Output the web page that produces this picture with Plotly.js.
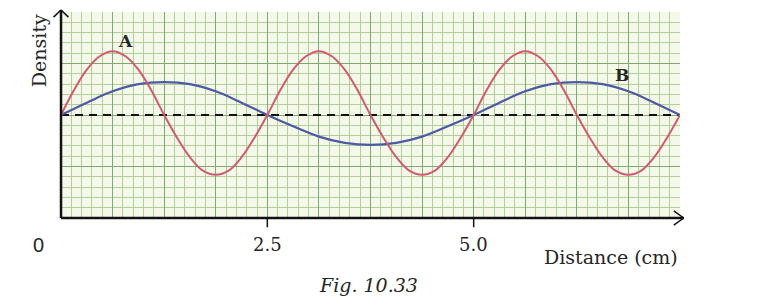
<!DOCTYPE html>
<html>
<head>
<meta charset="utf-8">
<script src="https://cdn.plot.ly/plotly-3.0.1.min.js"></script>
<style>html,body{margin:0;padding:0;background:#fff;}#chart{width:764px;height:308px;}</style>
</head>
<body>
<div id="chart"></div>
<script>
// Wave A (red): distance (cm) and density deviation, read at sixteenth-period points
const xA = [0, 0.15625, 0.3125, 0.46875, 0.625, 0.78125, 0.9375, 1.09375, 1.25, 1.40625, 1.5625, 1.71875, 1.875, 2.03125, 2.1875, 2.34375,
            2.5, 2.65625, 2.8125, 2.96875, 3.125, 3.28125, 3.4375, 3.59375, 3.75, 3.90625, 4.0625, 4.21875, 4.375, 4.53125, 4.6875, 4.84375,
            5.0, 5.15625, 5.3125, 5.46875, 5.625, 5.78125, 5.9375, 6.09375, 6.25, 6.40625, 6.5625, 6.71875, 6.875, 7.03125, 7.1875, 7.34375, 7.5];
const yA = [0, 2.4, 4.4, 5.7, 6.2, 5.7, 4.4, 2.4, 0, -2.2, -4.1, -5.4, -5.8, -5.4, -4.1, -2.2,
            0, 2.4, 4.4, 5.7, 6.2, 5.7, 4.4, 2.4, 0, -2.2, -4.1, -5.4, -5.8, -5.4, -4.1, -2.2,
            0, 2.4, 4.4, 5.7, 6.2, 5.7, 4.4, 2.4, 0, -2.2, -4.1, -5.4, -5.8, -5.4, -4.1, -2.2, 0];
// Wave B (blue)
const xB = [0, 0.3125, 0.625, 0.9375, 1.25, 1.5625, 1.875, 2.1875, 2.5, 2.8125, 3.125, 3.4375, 3.75, 4.0625, 4.375, 4.6875,
            5.0, 5.3125, 5.625, 5.9375, 6.25, 6.5625, 6.875, 7.1875, 7.5];
const yB = [0, 1.2, 2.3, 3.0, 3.2, 3.0, 2.3, 1.2, 0, -1.1, -2.1, -2.7, -2.9, -2.7, -2.1, -1.1,
            0, 1.2, 2.3, 3.0, 3.2, 3.0, 2.3, 1.2, 0];
// Equilibrium (dashed) line
const xMid = [0, 7.5];
const yMid = [0, 0];
// Axis labels
const tickVals = [2.5, 5.0];
const tickText = ['2.5', '5.0'];

const serif = 'DejaVu Serif, serif';
const ink = '#262626';
const traces = [
  {x: xMid, y: yMid, mode: 'lines', line: {color: '#111', width: 2, dash: '8px,6px'}, hoverinfo: 'skip'},
  {x: xB, y: yB, mode: 'lines', line: {color: '#4b5aa2', width: 2.2, shape: 'spline', smoothing: 1}},
  {x: xA, y: yA, mode: 'lines', line: {color: '#d05a6e', width: 2, shape: 'spline', smoothing: 1}}
];

const annotations = [
  {text: 'Density', xref: 'paper', yref: 'paper', x: 0, xshift: -22, y: 0.81, textangle: -90, showarrow: false, font: {family: serif, size: 19, color: ink}, xanchor: 'center', yanchor: 'middle'},
  {text: '0', xref: 'paper', yref: 'paper', x: 0, xshift: -23, y: -0.131, showarrow: false, font: {family: 'Liberation Sans, Arial, sans-serif', size: 20, color: ink}, xanchor: 'center', yanchor: 'middle'},
  {text: 'Distance (cm)', xref: 'paper', yref: 'paper', x: 1, y: -0.19, showarrow: false, font: {family: serif, size: 19, color: ink}, xanchor: 'right', yanchor: 'middle'},
  {text: '<i>Fig. 10.33</i>', xref: 'paper', yref: 'paper', x: 0.496, y: -0.325, showarrow: false, font: {family: serif, size: 19, color: ink}, xanchor: 'center', yanchor: 'middle'},
  {text: '<b>A</b>', xref: 'x', yref: 'y', x: 0.78, y: 7.2, showarrow: false, font: {family: serif, size: 17, color: ink}},
  {text: '<b>B</b>', xref: 'x', yref: 'y', x: 6.8, y: 3.9, showarrow: false, font: {family: serif, size: 17, color: ink}}
];
tickVals.forEach((v, i) => annotations.push({text: tickText[i], xref: 'x', yref: 'paper', x: v, y: -0.131, showarrow: false, font: {family: serif, size: 18, color: ink}, xanchor: 'center', yanchor: 'middle'}));

const shapes = [
  // y axis with arrow
  {type: 'line', xref: 'paper', yref: 'paper', x0: 0, x1: 0, y0: 0, y1: 1.01, line: {color: '#111', width: 2.5}},
  {type: 'line', xref: 'paper', yref: 'paper', x0: 0, x1: -0.012, y0: 1.01, y1: 0.975, line: {color: '#111', width: 1.5}},
  {type: 'line', xref: 'paper', yref: 'paper', x0: 0, x1: 0.012, y0: 1.01, y1: 0.975, line: {color: '#111', width: 1.5}},
  // x axis with arrow
  {type: 'line', xref: 'paper', yref: 'paper', x0: 0, x1: 1.006, y0: 0, y1: 0, line: {color: '#111', width: 2.5}},
  {type: 'line', xref: 'paper', yref: 'paper', x0: 1.006, x1: 0.99, y0: 0, y1: 0.035, line: {color: '#111', width: 1.5}},
  {type: 'line', xref: 'paper', yref: 'paper', x0: 1.006, x1: 0.99, y0: 0, y1: -0.035, line: {color: '#111', width: 1.5}}
];
tickVals.forEach(v => shapes.push({type: 'line', xref: 'x', yref: 'paper', x0: v, x1: v, y0: 0, y1: -0.045, line: {color: '#111', width: 1.5}}));

const layout = {
  width: 764, height: 308,
  margin: {l: 61, r: 84, t: 12, b: 90},
  paper_bgcolor: '#ffffff',
  plot_bgcolor: '#f4f8e8',
  showlegend: false,
  xaxis: {range: [0, 7.5], dtick: 0.625, tick0: 0, showgrid: true, gridcolor: '#7fa872', gridwidth: 1,
          minor: {dtick: 0.125, showgrid: true, gridcolor: '#b3d09c', gridwidth: 1},
          showticklabels: false, ticks: '', zeroline: false, showline: false, fixedrange: true},
  yaxis: {range: [-10, 10], dtick: 5, tick0: 0, showgrid: true, gridcolor: '#7fa872', gridwidth: 1,
          minor: {dtick: 1, showgrid: true, gridcolor: '#b3d09c', gridwidth: 1},
          showticklabels: false, ticks: '', zeroline: false, showline: false, fixedrange: true},
  annotations: annotations,
  shapes: shapes
};

Plotly.newPlot('chart', traces, layout, {staticPlot: true, displayModeBar: false});
</script>
</body>
</html>
